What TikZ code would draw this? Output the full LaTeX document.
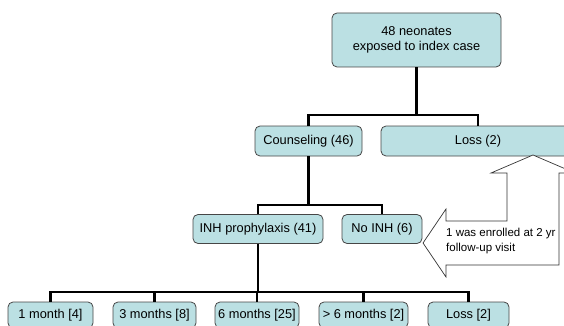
\documentclass[tikz,border=0pt]{standalone}
\usepackage{fontspec}
\setmainfont{Liberation Sans}
\definecolor{boxfill}{RGB}{187,224,227}
\definecolor{boxline}{RGB}{70,70,70}
\begin{document}
\begin{tikzpicture}[x=1pt,y=-1pt,
  box/.style={draw=boxline,line width=0.8pt,fill=boxfill,rounded corners=5pt,
    inner sep=0pt,align=center,font=\fontsize{12.8pt}{15pt}\selectfont},
  link/.style={line width=2.4pt,black},
  arrowshape/.style={draw=black!80,line width=0.7pt,fill=white}]
\useasboundingbox (0,0) rectangle (564,326);
\clip (0,0) rectangle (564,326);
% nodes
\node[box,minimum width=169pt,minimum height=54pt] (top) at (416.5,40) {48 neonates\\exposed to index case};
\node[box,minimum width=107pt,minimum height=30pt] (couns) at (308.5,141) {Counseling (46)};
\node[box,minimum width=194pt,minimum height=30pt] (loss1) at (478,141) {Loss (2)};
\node[box,minimum width=130pt,minimum height=29pt] (inh) at (258,229) {INH prophylaxis (41)};
\node[box,minimum width=80pt,minimum height=29pt] (noinh) at (382,229) {No INH (6)};
\node[box,minimum width=85pt,minimum height=26pt] (m1) at (50.5,315) {1 month [4]};
\node[box,minimum width=83pt,minimum height=26pt] (m3) at (154.5,315) {3 months [8]};
\node[box,minimum width=84pt,minimum height=26pt] (m6) at (257,315) {6 months [25]};
\node[box,minimum width=89pt,minimum height=26pt] (mg6) at (363.5,315) {> 6 months [2]};
\node[box,minimum width=81pt,minimum height=26pt] (loss2) at (468.5,315) {Loss [2]};
% branch points
\coordinate (b1) at (416.5,115);
\coordinate (b2) at (308.5,205);
\coordinate (b3) at (258,292);
% connectors
\draw[link] (top.south) -- (b1);
\draw[link] (couns.north) |- (b1) -| (loss1.north);
\draw[link] (couns.south) -- (b2);
\draw[link] (inh.north) |- (b2) -| (noinh.north);
\draw[link] (inh.south) -- (b3);
\draw[link] (m1.north) |- (b3) -| (loss2.north);
\draw[link] (m3.north) -- (m3.north |- b3);
\draw[link] (m6.north) -- (m6.north |- b3);
\draw[link] (mg6.north) -- (mg6.north |- b3);
% block arrow
\draw[arrowshape] (533,155) -- (491,173) -- (507,173) -- (507,221) -- (446,221)
  -- (446,209) -- (423,243) -- (446,277) -- (446,265) -- (559,265) -- (559,173)
  -- (575,173) -- cycle;
\node[anchor=base west,inner sep=0pt,align=left,font=\fontsize{11.5pt}{15pt}\selectfont] (note) at (446,251) {1 was enrolled at 2 yr\\follow-up visit};
\end{tikzpicture}
\end{document}
